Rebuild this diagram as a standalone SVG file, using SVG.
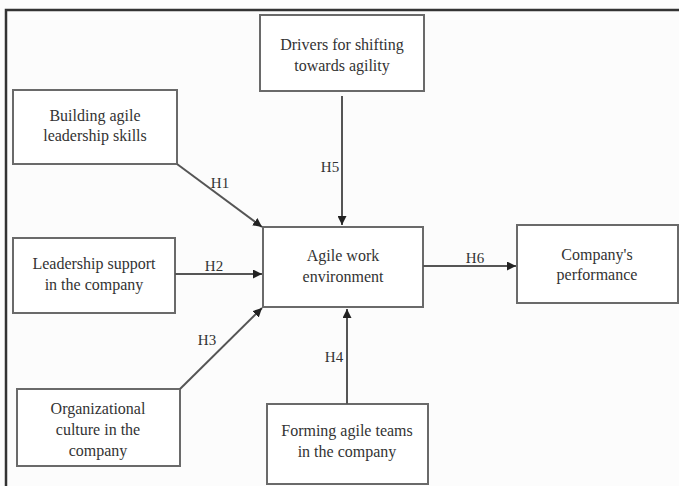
<svg xmlns="http://www.w3.org/2000/svg" width="679" height="486" viewBox="0 0 679 486">
<defs>
<marker id="ah" viewBox="0 0 10 10" refX="10" refY="5" markerWidth="9" markerHeight="9" markerUnits="userSpaceOnUse" orient="auto">
<path d="M0,0 L10,5 L0,10 z" fill="#222"/>
</marker>
<style>
.box{fill:#fff;stroke:#6a6a6a;stroke-width:2}
.t{font-family:"Liberation Serif","Times New Roman",serif;font-size:16px;fill:#333;text-anchor:middle}
.lbl{font-family:"Liberation Serif","Times New Roman",serif;font-size:15px;fill:#333;text-anchor:middle}
.c{stroke:#555;stroke-width:2;fill:none;marker-end:url(#ah)}
</style>
</defs>
<rect width="679" height="486" fill="#fcfcfc"/>
<g id="frame">
<path d="M6,486 V10 H679" fill="none" stroke="#333" stroke-width="2.5"/>
</g>
<g id="drivers">
<rect class="box" x="260" y="15" width="164" height="76"/>
<text class="t" x="342" y="50">Drivers for shifting</text>
<text class="t" x="342" y="71">towards agility</text>
</g>
<g id="building">
<rect class="box" x="13" y="90" width="164" height="74"/>
<text class="t" x="95" y="121">Building agile</text>
<text class="t" x="95" y="141">leadership skills</text>
</g>
<g id="leadership">
<rect class="box" x="13" y="238" width="162" height="75"/>
<text class="t" x="94" y="269">Leadership support</text>
<text class="t" x="94" y="290">in the company</text>
</g>
<g id="organizational">
<rect class="box" x="17" y="389" width="163" height="77"/>
<text class="t" x="98" y="414">Organizational</text>
<text class="t" x="98" y="435">culture in the</text>
<text class="t" x="98" y="456">company</text>
</g>
<g id="agile">
<rect class="box" x="263" y="227" width="160" height="80"/>
<text class="t" x="343" y="261">Agile work</text>
<text class="t" x="343" y="282">environment</text>
</g>
<g id="performance">
<rect class="box" x="517" y="225" width="161" height="78"/>
<text class="t" x="597" y="260">Company's</text>
<text class="t" x="597" y="280">performance</text>
</g>
<g id="forming">
<rect class="box" x="267" y="404" width="161" height="80"/>
<text class="t" x="347" y="436">Forming agile teams</text>
<text class="t" x="347" y="457">in the company</text>
</g>
<g id="connectors">
<line class="c" x1="177" y1="164" x2="262" y2="227"/>
<line class="c" x1="342" y1="96" x2="342" y2="225"/>
<line class="c" x1="175" y1="274" x2="262" y2="274"/>
<line class="c" x1="180" y1="389" x2="262" y2="308"/>
<line class="c" x1="347" y1="404" x2="347" y2="309"/>
<line class="c" x1="423" y1="266" x2="516" y2="266"/>
<text class="lbl" x="220" y="188">H1</text>
<text class="lbl" x="214" y="271">H2</text>
<text class="lbl" x="207" y="345">H3</text>
<text class="lbl" x="334" y="362">H4</text>
<text class="lbl" x="330" y="172">H5</text>
<text class="lbl" x="475" y="263">H6</text>
</g>
</svg>
